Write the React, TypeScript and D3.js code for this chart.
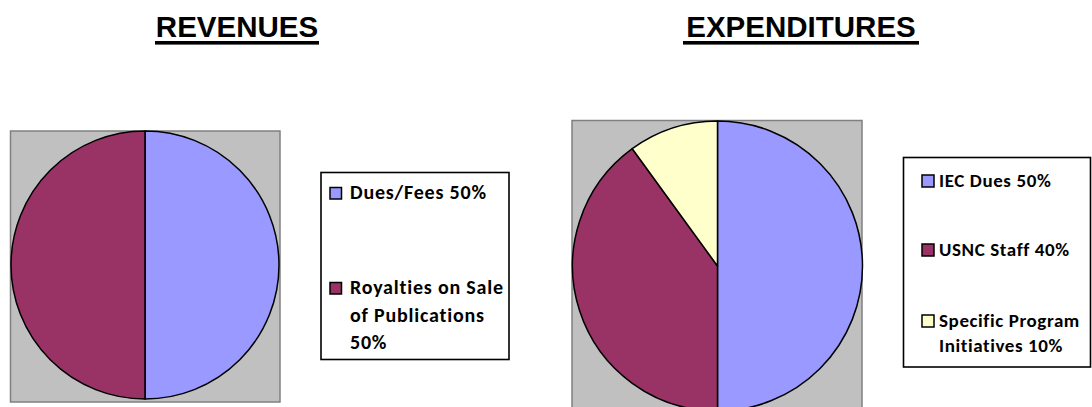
import React from "react";
import * as d3 from "d3";

const revenueLabels = [["Dues/Fees 50%"], ["Royalties on Sale", "of Publications", "50%"]];
const revenueValues = [50, 50];
const revenueColors = ["#9999FF", "#993366"];

const expenditureLabels = [["IEC Dues 50%"], ["USNC Staff 40%"], ["Specific Program", "Initiatives 10%"]];
const expenditureValues = [50, 40, 10];
const expenditureColors = ["#9999FF", "#993366", "#FFFFCC"];

const titles = ["REVENUES", "EXPENDITURES"];

type PieProps = {
  values: number[];
  colors: string[];
  cx: number;
  cy: number;
  r: number;
  box: { x: number; y: number; w: number; h: number };
};

function Pie({ values, colors, cx, cy, r, box }: PieProps) {
  const pie = d3.pie<number>().sort(null).value((d) => d).startAngle(0).endAngle(2 * Math.PI);
  const arc = d3.arc<d3.PieArcDatum<number>>().innerRadius(0).outerRadius(r);
  const arcs = pie(values);
  return (
    <g>
      <rect x={box.x} y={box.y} width={box.w} height={box.h} fill="#C0C0C0" stroke="#808080" strokeWidth={1.5} />
      <g transform={`translate(${cx},${cy})`}>
        {arcs.map((a, i) => (
          <path key={i} d={arc(a) || ""} fill={colors[i]} stroke="#000" strokeWidth={1.5} strokeLinejoin="round" />
        ))}
      </g>
    </g>
  );
}

type LegendProps = {
  labels: string[][];
  colors: string[];
  box: { x: number; y: number; w: number; h: number };
  swatchX: number;
  textX: number;
  baselines: number[];
  lineHeight: number;
  swatch: number;
  fontSize: number;
  spacing: number;
};

function Legend({ labels, colors, box, swatchX, textX, baselines, lineHeight, swatch, fontSize, spacing }: LegendProps) {
  return (
    <g>
      <rect x={box.x} y={box.y} width={box.w} height={box.h} fill="#fff" stroke="#000" strokeWidth={1.6} />
      {labels.map((lines, i) => (
        <g key={i}>
          <rect x={swatchX} y={baselines[i] - swatch} width={swatch} height={swatch} fill={colors[i]} stroke="#000" strokeWidth={1.5} />
          <text
            x={textX}
            y={baselines[i]}
            fontFamily="Carlito, Calibri, Lato, sans-serif"
            fontWeight="bold"
            fontSize={fontSize}
            letterSpacing={spacing}
            fill="#000"
          >
            {lines.map((l, j) => (
              <tspan key={j} x={textX} y={baselines[i] + j * lineHeight}>
                {l}
              </tspan>
            ))}
          </text>
        </g>
      ))}
    </g>
  );
}

function Title({ text, cx, x0, x1 }: { text: string; cx: number; x0: number; x1: number }) {
  return (
    <g>
      <text x={cx} y={36.5} textAnchor="middle" fontFamily="'Liberation Sans', Arial, sans-serif" fontWeight="bold" fontSize={29.5} fill="#000">
        {text}
      </text>
      <rect x={x0} y={41} width={x1 - x0} height={3.6} fill="#000" />
    </g>
  );
}

export default function App() {
  return (
    <svg width={1092} height={407} style={{ position: "absolute", left: 0, top: 0, background: "#fff" }}>
      <rect x={0} y={0} width={1092} height={407} fill="#fff" />
      <Title text={titles[0]} cx={237} x0={155} x1={319} />
      <Title text={titles[1]} cx={801} x0={683} x1={919} />

      <Pie values={revenueValues} colors={revenueColors} cx={145} cy={265} r={134} box={{ x: 10.5, y: 131, w: 269.5, h: 271 }} />
      <Pie values={expenditureValues} colors={expenditureColors} cx={717.5} cy={266} r={145} box={{ x: 572, y: 120.5, w: 290, h: 300 }} />

      <Legend
        labels={revenueLabels}
        colors={revenueColors}
        box={{ x: 321, y: 172.5, w: 188, h: 187 }}
        swatchX={330}
        textX={350}
        baselines={[199, 294]}
        lineHeight={27.5}
        swatch={11.5}
        fontSize={20}
        spacing={0.8}
      />
      <Legend
        labels={expenditureLabels}
        colors={expenditureColors}
        box={{ x: 903.5, y: 157.5, w: 187, h: 209.5 }}
        swatchX={922}
        textX={939}
        baselines={[187, 256, 327]}
        lineHeight={25}
        swatch={12}
        fontSize={19}
        spacing={0.6}
      />
    </svg>
  );
}
